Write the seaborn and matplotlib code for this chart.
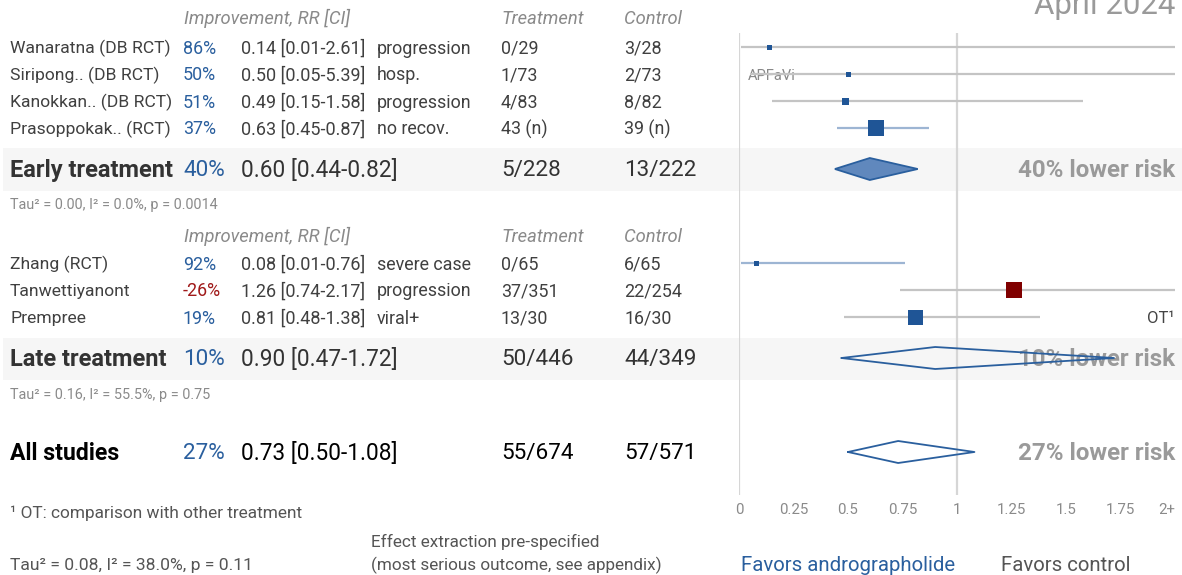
import matplotlib
matplotlib.use("Agg")
import matplotlib.pyplot as plt
import seaborn as sns
import pandas as pd
import numpy as np

# ---------------- data ----------------
studies = ["Wanaratna (DB RCT)", "Siripong.. (DB RCT)", "Kanokkan.. (DB RCT)",
           "Prasoppokak.. (RCT)", "Zhang (RCT)", "Tanwettiyanont", "Prempree"]
rr = [0.14, 0.50, 0.49, 0.63, 0.08, 1.26, 0.81]
ci_lo = [0.01, 0.05, 0.15, 0.45, 0.01, 0.74, 0.48]
ci_hi = [2.61, 5.39, 1.58, 0.87, 0.76, 2.17, 1.38]
improvement = ["86%", "50%", "51%", "37%", "92%", "-26%", "19%"]
outcomes = ["progression", "hosp.", "progression", "no recov.",
            "severe case", "progression", "viral+"]
treat_counts = ["0/29", "1/73", "4/83", "43 (n)", "0/65", "37/351", "13/30"]
ctrl_counts = ["3/28", "2/73", "8/82", "39 (n)", "6/65", "22/254", "16/30"]
square_px = [5, 5, 7, 16, 5, 16, 15]

groups = ["Early treatment", "Late treatment", "All studies"]
g_rr = [0.60, 0.90, 0.73]
g_lo = [0.44, 0.47, 0.50]
g_hi = [0.82, 1.72, 1.08]
g_impr = ["40%", "10%", "27%"]
g_treat = ["5/228", "50/446", "55/674"]
g_ctrl = ["13/222", "44/349", "57/571"]
g_tau = ["Tau² = 0.00, I² = 0.0%, p = 0.0014", "Tau² = 0.16, I² = 55.5%, p = 0.75",
         "Tau² = 0.08, I² = 38.0%, p = 0.11"]

tick_vals = [0, 0.25, 0.5, 0.75, 1, 1.25, 1.5, 1.75, 2]
tick_labels = ["0", "0.25", "0.5", "0.75", "1", "1.25", "1.5", "1.75", "2+"]

# ---------------- layout (pixel rows) ----------------
W, H = 1182, 575
row_y = [47, 74, 101, 128, 263, 290, 317]
g_y = [169, 358, 452]
band_spans = [(148, 191), (338, 380)]
DY = 1.5  # text vertical offset

sns.set_theme(style="white")
plt.rcParams["font.family"] = ["Roboto", "DejaVu Sans"]

BLUE = "#2a5f9e"
DARK = "#404040"
GRAY = "#8a8a8a"
RED = "#a01a1a"

fig = plt.figure(figsize=(W / 100, H / 100), dpi=100)
bg = fig.add_axes([0, 0, 1, 1])
bg.set_xlim(0, W)
bg.set_ylim(H, 0)
bg.axis("off")

X0, X2 = 739, 1175
fx = fig.add_axes([X0 / W, 0, (X2 - X0) / W, 1], zorder=2)
fx.patch.set_alpha(0)

# bands
for a, b in band_spans:
    bg.axhspan(a, b, xmin=3 / W, xmax=1, color="#f6f6f6", zorder=0, lw=0)

# headers
for hy in [17, 235]:
    bg.text(184, hy + DY, "Improvement, RR [CI]", fontsize=13.2, style="italic", color=GRAY, va="center")
    bg.text(501, hy + DY, "Treatment", fontsize=13.2, style="italic", color=GRAY, va="center")
    bg.text(624, hy + DY, "Control", fontsize=13.2, style="italic", color=GRAY, va="center")

bg.text(1175, 14, "April 2024", fontsize=22.5, color="#9a9a9a", ha="right", va="baseline")

# study rows
for i, name in enumerate(studies):
    y = row_y[i] + DY
    bg.text(10, y, name, fontsize=12.6, color=DARK, va="center")
    bg.text(183, y, improvement[i], fontsize=12.9,
            color=RED if improvement[i].startswith("-") else BLUE, va="center")
    bg.text(241, y, f"{rr[i]:.2f} [{ci_lo[i]:.2f}-{ci_hi[i]:.2f}]", fontsize=13, color=DARK, va="center")
    bg.text(377, y, outcomes[i], fontsize=12.9, color=DARK, va="center")
    bg.text(501, y, treat_counts[i], fontsize=12.9, color=DARK, va="center")
    bg.text(624, y, ctrl_counts[i], fontsize=12.9, color=DARK, va="center")

# group rows
for j, name in enumerate(groups):
    y = g_y[j] + DY
    last = j == 2
    col = "black" if last else "#333333"
    bg.text(10, y, name, fontsize=17 if not last else 16.6, fontweight="bold", color=col, va="center")
    bg.text(183, y, g_impr[j], fontsize=16.2, color=BLUE, va="center")
    bg.text(241, y, f"{g_rr[j]:.2f} [{g_lo[j]:.2f}-{g_hi[j]:.2f}]", fontsize=16.3, color=col, va="center")
    bg.text(501, y, g_treat[j], fontsize=16.2, color=col, va="center")
    bg.text(624, y, g_ctrl[j], fontsize=16.2, color=col, va="center")
    bg.text(1175, y, f"{g_impr[j]} lower risk", fontsize=17.4, fontweight="bold",
            color="#9a9a9a", ha="right", va="center", zorder=1)

bg.text(10, 204 + DY, g_tau[0], fontsize=10.4, color=GRAY, va="center")
bg.text(10, 393 + DY, g_tau[1], fontsize=10.4, color=GRAY, va="center")
bg.text(10, 564 + DY, g_tau[2], fontsize=12.6, color="#555555", va="center")
bg.text(10, 512 + DY, "¹ OT: comparison with other treatment", fontsize=12.4, color="#555555", va="center")
bg.text(371, 540 + DY, "Effect extraction pre-specified", fontsize=12.3, color="#555555", va="center")
bg.text(371, 564 + DY, "(most serious outcome, see appendix)", fontsize=12.3, color="#555555", va="center")

# ---------------- forest panel ----------------
fx.vlines([0, 1], 33, 495, color="#d6d6d6", lw=1.6, zorder=1)

lo_c = np.clip(ci_lo, 0, 2)
hi_c = np.clip(ci_hi, 0, 2)
for i in range(len(studies)):
    sig = ci_hi[i] < 1
    fx.hlines(row_y[i], lo_c[i], hi_c[i], color="#9db5d3" if sig else "#c4c4c4", lw=1.6, zorder=2)

df = pd.DataFrame({"rr": rr, "y": row_y,
                   "kind": ["harm" if r > 1 else "benefit" for r in rr],
                   "s": [(p * 0.72) ** 2 for p in square_px]})
sns.scatterplot(data=df, x="rr", y="y", hue="kind", palette={"benefit": "#1f5596", "harm": "#800000"},
                marker="s", s=df["s"].values, linewidth=0, legend=False, ax=fx, zorder=3)
fx.set_xlim(0, 2)
fx.set_ylim(H, 0)
fx.axis("off")

for j in range(3):
    y = g_y[j]
    xs = [g_lo[j], g_rr[j], g_hi[j], g_rr[j], g_lo[j]]
    ys = [y, y - 11, y, y + 11, y]
    if j == 0:
        fx.fill(xs, ys, facecolor="#6088bd", edgecolor="#2a5f9e", lw=1.3, zorder=3)
    else:
        fx.plot(xs, ys, color="#2a5f9e", lw=1.3, zorder=3)

fx.text(0.04, 74 + DY, "APFaVi", fontsize=10.5, color="#888888", va="center", zorder=1)
fx.text(2, 317 + DY, "OT¹", fontsize=12, color="#444444", ha="right", va="center")

for v, lab in zip(tick_vals, tick_labels):
    fx.text(v, 509 + DY, lab, fontsize=10.8, color="#8a8a8a",
            ha="right" if lab == "2+" else "center", va="center")

fx.text(0.01, 564 + DY, "Favors andrographolide", fontsize=14.7, color=BLUE, va="center")
fx.text(1.2, 564 + DY, "Favors control", fontsize=14.7, color="#555555", va="center")

fig.savefig("out.png", dpi=100)
